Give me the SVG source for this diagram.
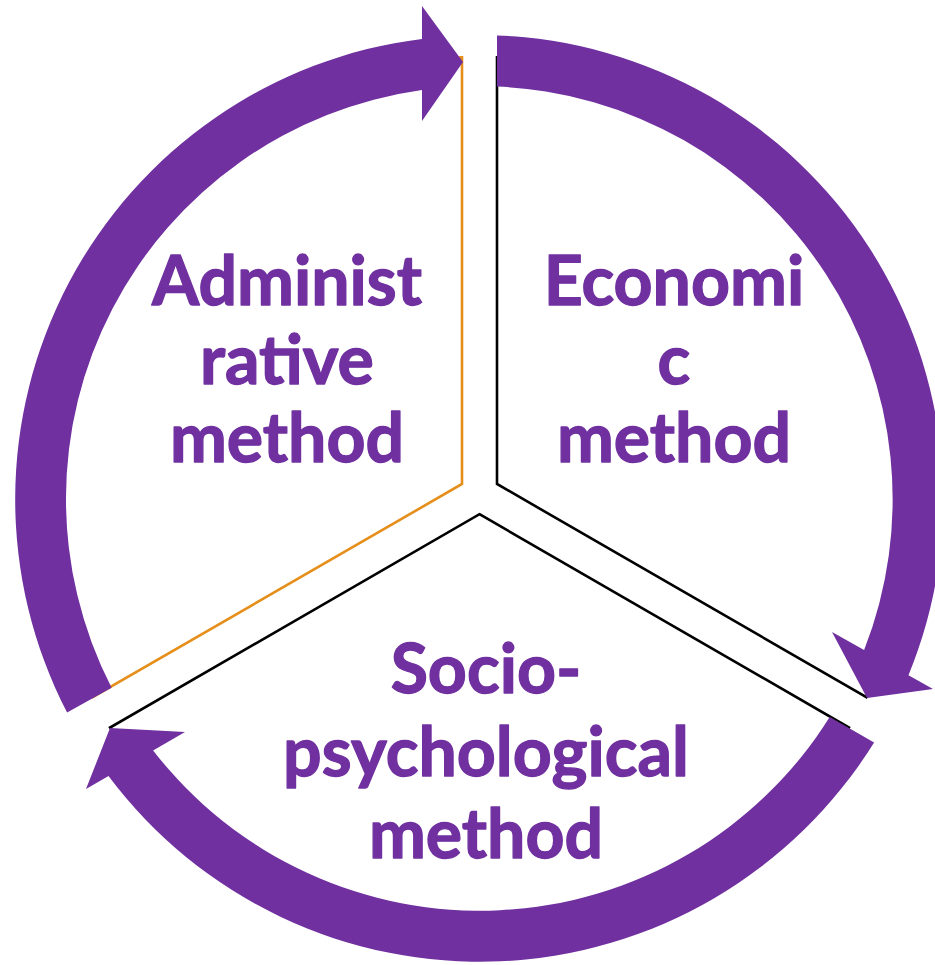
<svg xmlns="http://www.w3.org/2000/svg" width="935" height="965" viewBox="0 0 935 965">
  <style>
    .seg { fill: #FFFFFF; stroke-width: 2.6; stroke-linejoin: miter; }
    .seg-orange { stroke: #E58E1A; }
    .seg-black { stroke: #000000; }
    .arrow { fill: #7030A0; stroke: none; }
    .label { font-family: Lato, "Open Sans", "Liberation Sans", sans-serif; font-weight: 700; font-size: 68px; fill: #7030A0; stroke: #7030A0; stroke-width: 1.3; stroke-linejoin: round; text-anchor: middle; }
  </style>
  <rect x="0" y="0" width="935" height="965" fill="#FFFFFF"/>

  <g id="node-administrative">
    <path class="seg seg-orange" d="M 462 484 L 462 57.4 A 437 437 0 0 0 92.6 697.2 Z"/>
  </g>
  <g id="node-economic">
    <path class="seg seg-black" d="M 497 484 L 497 57.4 A 437 437 0 0 1 866.4 697.2 Z"/>
  </g>
  <g id="node-sociopsychological">
    <path class="seg seg-black" d="M 479.5 514.2 L 848.9 727.5 A 437 437 0 0 1 110.1 727.5 Z"/>
  </g>

  <g id="connectors">
    <path class="arrow" d="M 67.1 712.6 A 464 464 0 0 1 422 38.9 L 422 6 L 463 62 L 422 121 L 422 89.95 A 413 413 0 0 0 111.6 687.7 Z"/>
    <path class="arrow" d="M 497 35.4 A 464 464 0 0 1 908.5 675.2 L 933 689 L 867 698 L 832 632 L 864.1 650.1 A 413 413 0 0 0 497 86.6 Z"/>
    <path class="arrow" d="M 874.1 742.4 A 464 464 0 0 1 108.5 776 L 86 789 L 110 728 L 185 732 L 153.1 750.4 A 413 413 0 0 0 829.7 717.1 Z"/>
  </g>

  <g id="labels">
    <text class="label" x="287" y="305">Administ</text>
    <text class="label" x="287" y="384">rative</text>
    <text class="label" x="287" y="462">method</text>
    <text class="label" x="674" y="305">Economi</text>
    <text class="label" x="674" y="384">c</text>
    <text class="label" x="674" y="462">method</text>
    <text class="label" x="486" y="693">Socio-</text>
    <text class="label" x="486" y="775.5">psychological</text>
    <text class="label" x="486" y="858">method</text>
  </g>
</svg>
